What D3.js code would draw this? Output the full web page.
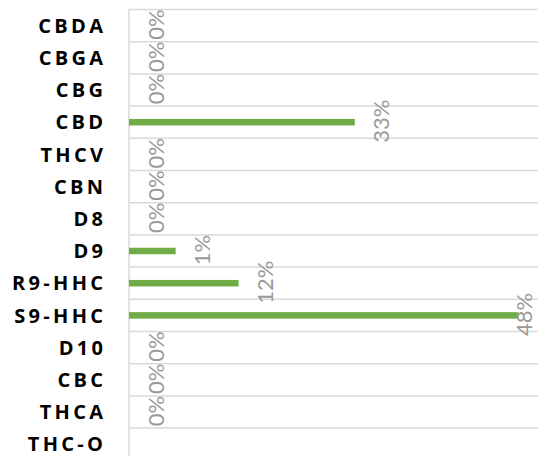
<!DOCTYPE html>
<html>
<head>
<meta charset="utf-8">
<script src="https://cdn.jsdelivr.net/npm/d3@7"></script>
<style>
  body { margin: 0; background: #fff; }
  .cat text { font-family: "Open Sans", sans-serif; font-weight: 700; font-size: 20px; letter-spacing: 3.3px; fill: #000; }
  .lbl { font-family: Lato, "Open Sans", sans-serif; font-weight: 400; font-size: 22px; fill: #999; }
</style>
</head>
<body>
<div id="chart"></div>
<script>
// categories top -> bottom
const categories = ['CBDA', 'CBGA', 'CBG', 'CBD', 'THCV', 'CBN', 'D8', 'D9', 'R9-HHC', 'S9-HHC', 'D10', 'CBC', 'THCA', 'THC-O'];
// bar lengths (share of axis max 0.5)
const values = [0, 0, 0, 0.276, 0, 0, 0, 0.057, 0.134, 0.476, 0, 0, 0, null];
// data labels as printed
const labels = ['0%', '0%', '0%', '33%', '0%', '0%', '0%', '1%', '12%', '48%', '0%', '0%', '0%', null];

const data = categories.map((c, i) => ({cat: c, value: values[i], label: labels[i]}));

const svg_width = 538, svg_height = 456;
const margin = {top: 9.5, left: 129, right: 0};
const rowH = 32.2;

const svg = d3.select('#chart').append('svg')
  .attr('width', svg_width).attr('height', svg_height);

const xScale = d3.scaleLinear().domain([0, 0.5]).range([margin.left, svg_width]);
const yScale = d3.scaleBand().domain(categories)
  .range([margin.top, margin.top + rowH * categories.length]);

// gridlines between rows
svg.append('g').selectAll('line')
  .data(categories.concat(['__end']))
  .join('line')
  .attr('x1', margin.left).attr('x2', svg_width)
  .attr('y1', (d, i) => margin.top + i * yScale.bandwidth())
  .attr('y2', (d, i) => margin.top + i * yScale.bandwidth())
  .style('stroke', '#d9d9d9').style('stroke-width', 1.5);

// vertical axis line
svg.append('line')
  .attr('x1', margin.left).attr('x2', margin.left)
  .attr('y1', margin.top).attr('y2', svg_height)
  .style('stroke', '#d9d9d9').style('stroke-width', 1.5);

// category axis
const yAxis = d3.axisLeft(yScale).tickSize(0).tickPadding(0);
const yAxisDraw = svg.append('g').attr('class', 'cat')
  .attr('transform', `translate(${103 + 3.3},0)`)
  .call(yAxis);
yAxisDraw.select('.domain').remove();
yAxisDraw.selectAll('text').attr('dy', '0.36em');

// bars
const barH = 6.5;
svg.selectAll('.bar')
  .data(data.filter(d => d.value > 0))
  .join('rect').attr('class', 'bar')
  .attr('x', xScale(0))
  .attr('y', d => yScale(d.cat) + yScale.bandwidth() / 2 - barH / 2)
  .attr('width', d => xScale(d.value) - xScale(0))
  .attr('height', barH)
  .style('fill', '#70ad47');

// rotated data labels
svg.selectAll('.lbl')
  .data(data.filter(d => d.label))
  .join('text').attr('class', 'lbl')
  .attr('transform', d => {
    const cx = Math.min(xScale(d.value) + 27, svg_width - 14);
    const cy = yScale(d.cat) + yScale.bandwidth() / 2 - 1;
    return `translate(${cx},${cy}) rotate(-90)`;
  })
  .attr('text-anchor', 'middle')
  .attr('dy', '0.35em')
  .text(d => d.label);
</script>
</body>
</html>
